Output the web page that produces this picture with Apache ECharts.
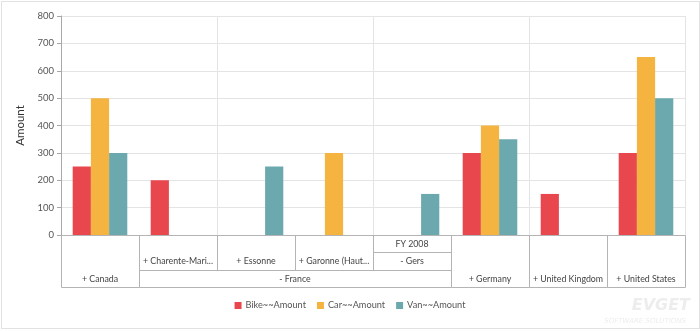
<!DOCTYPE html>
<html>
<head>
<meta charset="utf-8">
<script src="https://cdn.jsdelivr.net/npm/echarts@6/dist/echarts.min.js"></script>
<style>
html,body{margin:0;padding:0;background:#fff;}
#frame{position:absolute;left:1px;top:1px;width:697px;height:326px;border:1px solid #e2e2e2;}
#chart{position:absolute;left:0;top:0;width:700px;height:331px;}
</style>
</head>
<body>
<div id="frame"></div>
<div id="chart"></div>
<script>
// ---- data ----
const categories = ['Canada','Charente-Maritime','Essonne','Garonne (Haute)','Gers','Germany','United Kingdom','United States'];
const bikeValues = [250, 200, null, null, null, 300, 150, 300];
const carValues  = [500, null, null, 300, null, 400, null, 650];
const vanValues  = [300, null, 250, null, 150, 350, null, 500];
const seriesNames = ['Bike~~Amount','Car~~Amount','Van~~Amount'];
const yTicks = [0,100,200,300,400,500,600,700,800];
// header levels (row 0 = year, row 1 = region, row 2 = country)
const countryLabels = ['+ Canada','- France','+ Germany','+ United Kingdom','+ United States'];
const countrySpans  = [[0,0],[1,4],[5,5],[6,6],[7,7]];
const regionLabels  = [null,'+ Charente-Mari...','+ Essonne','+ Garonne (Haut...','- Gers',null,null,null];
const yearLabels    = [null,null,null,null,'FY 2008',null,null,null];
const watermark = ['EVGET','SOFTWARE SOLUTIONS'];

// build header cells: [startCol, endCol, topRow, bottomRow, label]
const headerCells = [];
countrySpans.forEach((sp, k) => {
  let hasRegion = false;
  for (let i = sp[0]; i <= sp[1]; i++) if (regionLabels[i]) hasRegion = true;
  headerCells.push([sp[0], sp[1], hasRegion ? 2 : 0, 2, countryLabels[k]]);
});
regionLabels.forEach((r, i) => {
  if (r) headerCells.push([i, i, yearLabels[i] ? 1 : 0, 1, r]);
});
yearLabels.forEach((y, i) => {
  if (y) headerCells.push([i, i, 0, 0, y]);
});

const FONT = "Lato,'Open Sans',sans-serif";
const ROW_H = 17.33;
const colors = ['#E8474E', '#F5B43F', '#6BA9AF'];

const chart = echarts.init(document.getElementById('chart'), null, {renderer: 'canvas'});
chart.setOption({
  animation: false,
  color: colors,
  textStyle: {fontFamily: FONT},
  grid: {left: 61, right: 15, top: 16, bottom: 96, containLabel: false},
  legend: {
    data: seriesNames,
    bottom: 16,
    left: 'center',
    icon: 'rect',
    itemWidth: 7,
    itemHeight: 7,
    itemGap: 11,
    textStyle: {fontSize: 9.2, color: '#555', fontFamily: FONT, padding: [0,0,0,-1]}
  },
  xAxis: {
    type: 'category',
    data: categories,
    boundaryGap: true,
    axisLine: {show: true, lineStyle: {color: '#a8a8a8'}},
    axisTick: {show: false},
    axisLabel: {show: false},
    splitLine: {show: true, lineStyle: {color: '#e4e4e4'}}
  },
  yAxis: {
    type: 'value',
    min: 0, max: 800, interval: 100,
    name: 'Amount',
    nameLocation: 'middle',
    nameGap: 34,
    nameRotate: 90,
    nameTextStyle: {fontSize: 11.5, color: '#333', fontFamily: FONT},
    axisLine: {show: true, lineStyle: {color: '#a8a8a8'}},
    axisTick: {show: true, length: 4, lineStyle: {color: '#a8a8a8'}},
    axisLabel: {fontSize: 9.5, color: '#555', margin: 7, fontFamily: FONT,
      formatter: v => yTicks.indexOf(v) >= 0 ? String(v) : ''},
    splitLine: {show: true, lineStyle: {color: '#e4e4e4'}}
  },
  series: [
    {name: seriesNames[0], type: 'bar', data: bikeValues, barGap: '0%', barCategoryGap: '30%'},
    {name: seriesNames[1], type: 'bar', data: carValues, barGap: '0%', barCategoryGap: '30%'},
    {name: seriesNames[2], type: 'bar', data: vanValues, barGap: '0%', barCategoryGap: '30%'},
    {
      type: 'custom',
      name: 'header',
      clip: false,
      silent: true,
      encode: {x: [0, 1]},
      data: headerCells,
      renderItem: function (params, api) {
        const s = api.value(0), e = api.value(1);
        const top = api.value(2), bot = api.value(3);
        const label = api.value(4);
        const w = api.size([1, 0])[0];
        const x0 = api.coord([s, 0])[0] - w / 2;
        const x1 = api.coord([e, 0])[0] + w / 2;
        const yBase = api.coord([s, 0])[1];
        const yTop = yBase + top * ROW_H;
        const yBot = yBase + (bot + 1) * ROW_H;
        return {
          type: 'group',
          children: [
            {type: 'rect', shape: {x: Math.round(x0) + 0.5, y: Math.round(yTop) + 0.5, width: Math.round(x1) - Math.round(x0), height: Math.round(yBot) - Math.round(yTop)},
             style: {fill: 'none', stroke: '#b4b4b4', lineWidth: 1}},
            {type: 'text', style: {text: label, x: (x0 + x1) / 2, y: yBot - ROW_H / 2 + 0.5,
              align: 'center', verticalAlign: 'middle', fill: '#444', font: '8.8px ' + FONT}}
          ]
        };
      }
    }
  ],
  graphic: [
    {type: 'text', right: 10, bottom: 17, style: {text: watermark[0], fill: '#ededed', font: 'italic bold 16px "DejaVu Sans"'}},
    {type: 'text', right: 14, bottom: 6, style: {text: watermark[1], fill: '#ededed', font: 'italic 7px "DejaVu Sans"'}}
  ]
});
</script>
</body>
</html>
